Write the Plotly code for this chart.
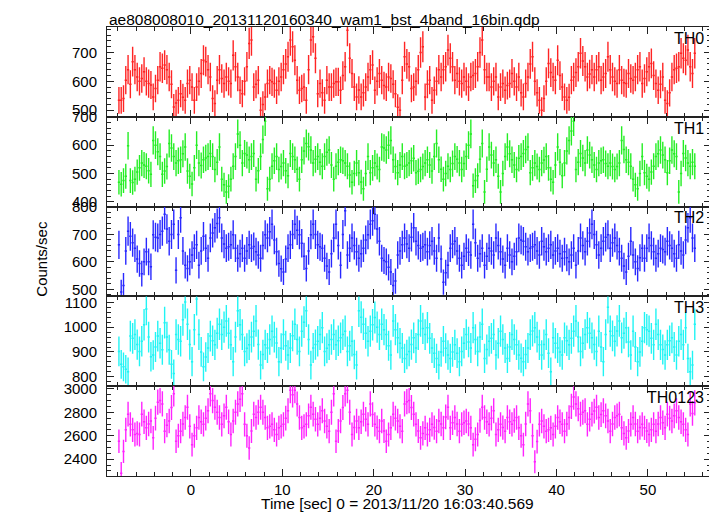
import math
import plotly.graph_objects as go

# ---- data (count rates, counts/sec, 0.25 s bins) ----
T_START = -7.875   # centre of first bin [s]
BIN_SEC = 0.25     # bin width [s]

TH0 = [534,534,540,604,640,590,668,640,615,600,610,633,600,592,587,546,575,604,650,645,
       656,640,615,590,511,525,534,557,545,534,592,604,580,534,580,600,627,673,668,640,
       615,540,523,604,640,610,592,615,600,592,690,650,615,569,557,600,650,731,743,580,
       590,604,500,520,546,592,604,598,592,569,600,615,640,660,685,743,720,673,604,569,
       575,580,534,640,743,754,680,557,592,560,534,604,580,580,592,598,598,569,620,650,
       777,680,627,580,546,570,546,560,580,615,640,656,569,600,627,604,585,580,615,610,
       590,557,510,500,604,685,660,650,575,580,600,640,700,720,546,590,604,534,569,600,
       640,615,640,650,708,680,650,604,627,600,592,615,600,580,615,620,627,650,700,743,
       640,615,615,580,600,615,546,580,592,569,585,592,627,600,580,615,560,546,592,615,
       660,685,600,560,534,500,540,600,662,630,615,604,673,620,580,546,534,545,604,615,
       630,650,697,670,650,615,625,640,615,640,650,604,615,627,685,640,615,600,592,640,
       604,595,592,627,610,604,615,640,650,592,610,633,650,662,620,592,569,590,615,534,
       523,560,615,640,645,650,697,680,673,708,650,627,697]

TH1 = [469,462,475,490,598, 475,468,480,505,520, 537,530,526,510,497, 617,600,577,560,497,
       509,525,606,590,560, 537,545,549,570,594, 509,490,463,520,600, 537,528,549,555,560,
       571,560,514,540,594, 480,460,435,455,480, 526,560,640,600,537, 571,565,549,560,571,
       480,510,560,620,685, 446,480,526,545,560, 514,525,537,510,492, 571,560,549,515,480,
       549,580,606,595,583, 537,550,560,540,526, 560,575,583,530,480, 526,540,549,545,537,
       526,495,469,500,537, 503,470,446,500,560, 503,520,537,525,514, 594,590,583,600,617,
       549,525,503,530,560, 526,530,537,545,554, 503,508,514,525,537, 549,530,509,560,606,
       549,515,480,500,526, 514,535,560,550,537, 514,535,560,600,640, 457,475,492,550,606,
       435,515,594,565,537, 549,490,435,500,560, 594,570,549,530,514, 554,560,571,585,594,
       503,520,537,525,514, 537,548,560,520,480, 469,530,594,540,492, 537,580,617,650,685,
       514,540,571,555,537, 583,565,549,530,514, 537,545,549,535,526, 537,525,514,525,537,
       617,585,549,540,526, 480,460,446,500,560, 503,490,480,505,526, 560,570,583,565,549,
       503,545,583,570,560, 435,500,571,555,537, 526,540,526]

TH2 = [662,490,514,640,712, 693,670,650,610,594, 557,600,637,600,582, 699,690,687,700,712,
       774,720,675,700,737, 569,700,761,640,588, 576,600,625,650,662, 588,640,693,650,613,
       687,705,724,740,761, 687,665,650,655,662, 699,650,613,630,650, 613,640,662,650,656,
       637,625,613,660,699, 687,710,737,680,637, 594,575,563,610,650, 662,700,737,715,699,
       668,620,576,640,699, 737,700,662,655,650, 613,585,563,630,687, 737,660,588,700,786,
       625,650,687,660,637, 613,630,650,680,699, 737,750,774,720,675, 613,605,600,580,563,
       514,530,625,640,662, 687,665,650,690,724, 675,660,650,655,662, 637,660,675,640,613,
       687,610,526,560,588, 650,665,675,640,613, 588,620,650,635,625, 737,670,613,630,650,
       588,620,650,640,625, 687,660,637,610,588, 650,625,600,620,637, 687,680,675,655,637,
       650,655,662,640,625, 675,655,637,650,662, 625,640,650,630,613, 637,615,600,625,650,
       588,640,687,660,637, 675,705,737,700,662, 625,650,675,690,699, 650,670,687,660,637,
       613,585,563,620,675, 625,600,576,615,650, 613,650,687,660,637, 613,630,650,645,637,
       675,660,650,630,613, 662,640,625,680,724, 761,687,650]

TH3 = [902,850,840,830,820, 964,955,970,930,902, 943,1010,1073,960,881, 888,920,964,935,909,
       1018,960,909,850,813, 970,950,943,1030,1101, 1012,930,861,990,1114, 970,900,840,880,916,
       964,945,929,975,1012, 970,1000,1025,975,929, 861,960,1066,1010,970, 902,915,929,960,984,
       1025,930,847,890,929, 916,950,984,960,936, 861,915,970,925,888, 916,965,1012,950,902,
       984,1020,1066,950,847, 916,930,943,970,998, 902,915,929,950,970, 929,945,957,970,984,
       902,925,943,890,847, 1066,1040,1012,975,943, 984,1010,1039,1000,970, 1012,990,970,925,888,
       1025,990,957,935,916, 874,890,902,930,957, 916,970,1025,995,970, 998,955,916,895,874,
       847,900,943,915,888, 874,900,929,895,861, 902,935,970,940,916, 998,950,902,960,1012,
       874,910,943,955,970, 888,935,984,950,916, 874,920,970,950,929, 888,875,861,890,916,
       970,985,998,960,929, 888,930,970,895,820, 957,935,916,900,888, 957,945,929,955,984,
       1025,960,902,935,970, 998,975,957,930,902, 984,920,861,970,1080, 984,965,943,985,1025,
       957,975,998,940,888, 984,920,861,900,943, 998,990,984,955,929, 1012,970,929,910,888,
       929,945,957,920,888, 943,970,929,998,874,820,847,1012]

TH0123 = [2553,2280,2466,2650,2784, 2697,2650,2610,2620,2610, 2784,2720,2668,2700,2726,
          2582,2750,2886,2900,2871, 2639,2690,2726,2840,2958, 2553,2600,2639,2700,2755,
          2842,2680,2524,2600,2668, 2755,2720,2697,2750,2813, 2958,2900,2842,2800,2755,
          2697,2770,2842,2720,2610, 2726,2800,2871,2910,2958, 2697,2600,2495,2640,2784,
          2755,2800,2842,2800,2755, 2668,2680,2697,2650,2610, 2668,2680,2697,2750,2813,
          2987,2950,2987,2870,2755, 2668,2680,2697,2770,2842, 2784,2740,2697,2750,2813,
          2726,2680,2639,2800,2958, 2553,2640,2726,2840,2958, 2987,2800,2610,2670,2726,
          2668,2720,2784,2740,2697, 2871,2780,2697,2670,2639, 2726,2640,2553,2610,2668,
          2784,2750,2726,2680,2639, 2871,2890,2900,2840,2784, 2697,2640,2582,2620,2668,
          2610,2650,2697,2670,2639, 2726,2700,2668,2760,2842, 2668,2710,2755,2700,2639,
          2697,2710,2726,2700,2668, 2524,2570,2610,2730,2842, 2755,2720,2697,2750,2813,
          2610,2650,2697,2670,2639, 2755,2720,2697,2730,2755, 2668,2600,2524,2700,2871,
          2813,2600,2379,2550,2697, 2726,2680,2639,2650,2668, 2610,2680,2755,2720,2697,
          2639,2700,2755,2850,2929, 2871,2830,2784,2800,2813, 2697,2740,2784,2810,2842,
          2755,2780,2813,2770,2726, 2639,2700,2755,2770,2784, 2668,2620,2582,2640,2697,
          2755,2700,2639,2670,2697, 2668,2640,2610,2650,2697, 2639,2700,2755,2710,2668,
          2784,2750,2726,2770,2813, 2755,2720,2697,2650,2610, 2871,2790,2880]

SERIES = [("TH0", TH0), ("TH1", TH1), ("TH2", TH2), ("TH3", TH3), ("TH0123", TH0123)]
COLORS = ["#ff2424", "#24ee24", "#2828ff", "#20f4f4", "#ff24ff"]
Y_RANGES = [[477, 788], [383, 700.5], [474, 801.5], [762, 1124], [2257, 3022]]
Y_DTICK = [100, 100, 100, 100, 200]
Y_MINOR = [20, 20, 20, 20, 50]
X_RANGE = [-9.18, 56.9]
TITLE = "ae808008010_20131120160340_wam1_bst_4band_16bin.qdp"
X_TITLE = "Time [sec] 0 = 2013/11/20 16:03:40.569"
Y_TITLE = "Counts/sec"

FONT = "Liberation Sans, Arial, Helvetica, sans-serif"
AXC = "#222222"

fig = go.Figure()
n = len(SERIES)
for i, ((name, vals), col) in enumerate(zip(SERIES, COLORS)):
    times = [T_START + BIN_SEC * k for k in range(len(vals))]
    errs = [math.sqrt(v / BIN_SEC) for v in vals]   # Poisson error of the rate
    sfx = "" if i == 0 else str(i + 1)
    fig.add_trace(go.Scatter(
        x=times, y=vals, mode="markers",
        marker=dict(size=1, color=col),
        error_x=dict(type="constant", value=BIN_SEC / 2, width=0, thickness=1.5, color=col),
        error_y=dict(type="data", array=errs, width=0, thickness=1.4, color=col),
        xaxis="x" + sfx, yaxis="y" + sfx, showlegend=False, hoverinfo="skip"))
    top = 1 - i / n
    bot = 1 - (i + 1) / n
    fig.layout["xaxis" + sfx] = dict(
        range=X_RANGE, anchor="y" + sfx, tickmode="linear",
        dtick=10, tick0=0, ticks="inside", ticklen=7, tickwidth=1, tickcolor=AXC,
        minor=dict(tickmode="linear", dtick=2, tick0=0, ticks="inside", ticklen=4,
                   tickwidth=1, tickcolor=AXC, showgrid=False),
        showline=True, linecolor=AXC, linewidth=1, mirror="ticks",
        showgrid=False, zeroline=False, showticklabels=(i == n - 1),
        tickfont=dict(family=FONT, size=15, color="black"), ticklabelstandoff=0)
    fig.layout["yaxis" + sfx] = dict(
        domain=[bot, top], anchor="x" + sfx, range=Y_RANGES[i], tickmode="linear",
        dtick=Y_DTICK[i], tick0=0, ticks="inside", ticklen=7, tickwidth=1, tickcolor=AXC,
        minor=dict(tickmode="linear", dtick=Y_MINOR[i], tick0=0, ticks="inside", ticklen=4,
                   tickwidth=1, tickcolor=AXC, showgrid=False),
        showline=True, linecolor=AXC, linewidth=1, mirror="ticks",
        showgrid=False, zeroline=False,
        tickfont=dict(family=FONT, size=15, color="black"), ticklabelstandoff=6)
    fig.add_annotation(text=name, xref="paper", yref="paper", x=0.991, y=top - 0.002,
                       xanchor="right", yanchor="top", showarrow=False,
                       font=dict(family=FONT, size=16, color="black"))

fig.add_annotation(text=TITLE, xref="paper", yref="paper", x=0.0, y=1.040,
                   xanchor="left", yanchor="top", showarrow=False,
                   font=dict(family=FONT, size=15.5, color="black"))
fig.add_annotation(text=X_TITLE, xref="paper", yref="paper", x=0.481, y=-0.062,
                   xanchor="center", yanchor="middle", showarrow=False,
                   font=dict(family=FONT, size=15.5, color="black"))
fig.add_annotation(text=Y_TITLE, xref="paper", yref="paper", x=-0.1084, y=0.483,
                   xanchor="center", yanchor="middle", textangle=-90, showarrow=False,
                   font=dict(family=FONT, size=15, color="black"))

# the page adds an 8 px body margin, so the figure is 8 px smaller on each axis
fig.update_layout(width=709, height=508, margin=dict(l=99, r=6, t=19, b=40),
                  paper_bgcolor="white", plot_bgcolor="white")
fig.write_html("out.html")
